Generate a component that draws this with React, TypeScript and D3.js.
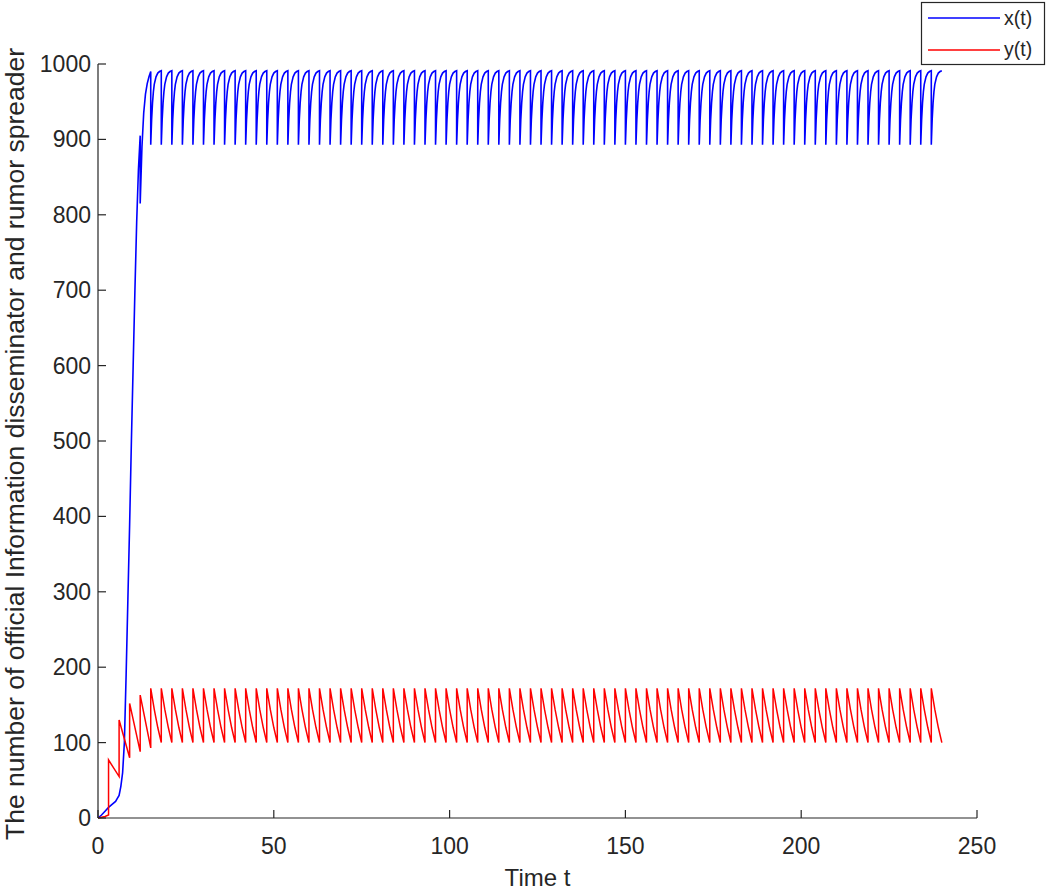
import React from "react";
import * as d3 from "d3";

// ---- data ----
const xTicks = [0, 50, 100, 150, 200, 250];
const yTicks = [0, 100, 200, 300, 400, 500, 600, 700, 800, 900, 1000];

// transient phase of x(t) (time, value); impulse at t=12 shown as repeated time
const blueTransientT = [0, 1, 2, 3, 4, 5, 5.5, 6, 6.5, 7, 7.5, 8, 8.5, 9, 9.5, 10, 10.5, 11, 11.5, 12, 12, 12.5, 13, 13.5, 14, 14.5, 15];
const blueTransientV = [0, 4, 9, 14, 18, 22, 26, 30, 42, 60, 100, 190, 290, 390, 500, 600, 700, 790, 860, 905, 815, 890, 935, 960, 974, 983, 990];

// transient phase of y(t)
const redTransientT = [0, 1, 2, 3, 3, 6, 6, 9, 9, 12, 12, 15];
const redTransientV = [0, 1, 2, 4, 77, 55, 130, 80, 152, 88, 163, 93];

// one steady period (length 3) after each impulse
const period = 3;
const steadyStart = 15;
const tEnd = 240;
const blueCycleOffset = [0, 0.25, 0.5, 0.75, 1, 1.5, 2, 2.5, 3];
const blueCycleV = [893, 926, 948, 963, 973, 983, 988, 990, 991];
const redCycleOffset = [0, 1, 2, 3];
const redCycleV = [172, 144, 120, 100];

function buildSeries(tT: number[], tV: number[], cO: number[], cV: number[]) {
  const pts: [number, number][] = tT.map((t, i) => [t, tV[i]]);
  for (let s = steadyStart; s < tEnd - 1e-9; s += period) {
    cO.forEach((o, i) => pts.push([s + o, cV[i]]));
  }
  return pts;
}

const blueSeries = buildSeries(blueTransientT, blueTransientV, blueCycleOffset, blueCycleV);
const redSeries = buildSeries(redTransientT, redTransientV, redCycleOffset, redCycleV);

export default function App() {
  const W = 1047, H = 890;
  const left = 98, right = 977, top = 64, bottom = 818;
  const x = d3.scaleLinear().domain([0, 250]).range([left, right]);
  const y = d3.scaleLinear().domain([0, 1000]).range([bottom, top]);
  const line = d3.line<[number, number]>().x(d => x(d[0])).y(d => y(d[1]));
  const axisColor = "#262626";
  const font = "Arial, 'Liberation Sans', sans-serif";

  return (
    <div style={{ position: "absolute", left: 0, top: 0 }}>
      <svg width={W} height={H} style={{ display: "block", background: "#fff" }} fontFamily={font}>
        <rect x={0} y={0} width={W} height={H} fill="#fff" />
        {/* series */}
        <path d={line(blueSeries) || ""} fill="none" stroke="#0000ff" strokeWidth={1.6} />
        <path d={line(redSeries) || ""} fill="none" stroke="#ff0000" strokeWidth={1.5} />
        {/* axes */}
        <line x1={left} y1={bottom} x2={right} y2={bottom} stroke={axisColor} strokeWidth={1.2} />
        <line x1={left} y1={bottom} x2={left} y2={top} stroke={axisColor} strokeWidth={1.2} />
        {xTicks.map(t => (
          <g key={"xt" + t}>
            <line x1={x(t)} x2={x(t)} y1={bottom} y2={bottom - 8} stroke={axisColor} strokeWidth={1.2} />
            <text x={x(t)} y={854} textAnchor="middle" fontSize={23} fill={axisColor}>{t}</text>
          </g>
        ))}
        {yTicks.map(t => (
          <g key={"yt" + t}>
            <line x1={left} x2={left + 8} y1={y(t)} y2={y(t)} stroke={axisColor} strokeWidth={1.2} />
            <text x={left - 7} y={y(t) + 8} textAnchor="end" fontSize={23} fill={axisColor}>{t}</text>
          </g>
        ))}
        <text x={(left + right) / 2} y={886} textAnchor="middle" fontSize={24} fill={axisColor}>Time t</text>
        <text transform={`translate(24, 444) rotate(-90)`} textAnchor="middle" fontSize={26.5} fill={axisColor}>
          The number of official Information disseminator and rumor spreader
        </text>
        {/* legend */}
        <rect x={921.5} y={2.5} width={123} height={62} fill="#fff" stroke={axisColor} strokeWidth={1.2} />
        <line x1={928} x2={1000} y1={18} y2={18} stroke="#0000ff" strokeWidth={1.6} />
        <line x1={928} x2={1000} y1={50} y2={50} stroke="#ff0000" strokeWidth={1.5} />
        <text x={1004} y={25} fontSize={19.5} fill={axisColor}>x(t)</text>
        <text x={1004} y={56} fontSize={19.5} fill={axisColor}>y(t)</text>
      </svg>
    </div>
  );
}
